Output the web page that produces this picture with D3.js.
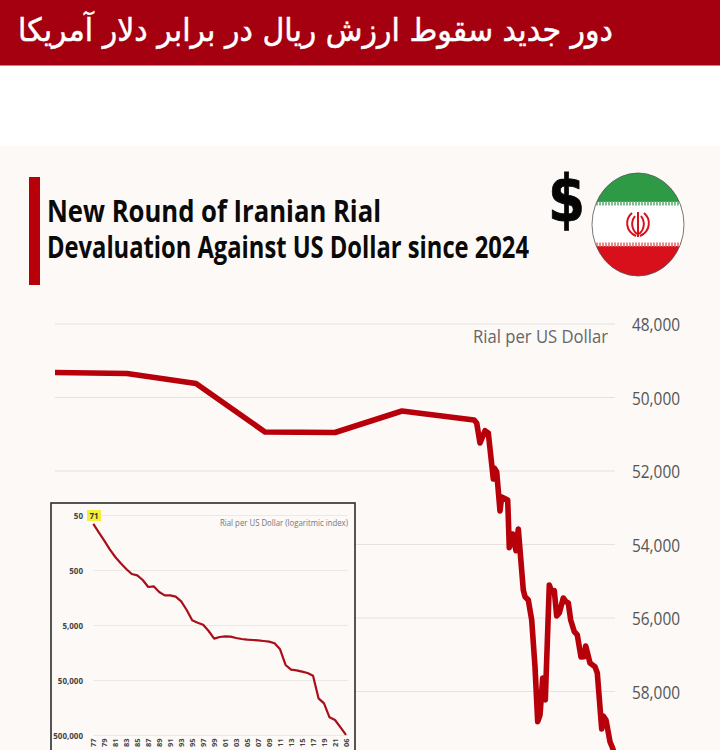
<!DOCTYPE html>
<html><head><meta charset="utf-8">
<script src="https://cdn.jsdelivr.net/npm/d3@7/dist/d3.min.js"></script>
<style>html,body{margin:0;padding:0;background:#fff;overflow:hidden}svg{display:block}</style>
</head><body><div id="chart"></div>
<script>
const headline = "دور جدید سقوط ارزش ریال در برابر دلار آمریکا";
const titleLines = ["New Round of Iranian Rial", "Devaluation Against US Dollar since 2024"];
const mainUnit = "Rial per US Dollar";
const insetUnit = "Rial per US Dollar (logaritmic index)";

// Main chart: step position along the time axis, and rial per dollar
const mainSteps = [0,72,141,210,280,347,419,421.7,425,430,433.3,438.3,439.3,441.7,445,446.7,452.7,454.3,457.7,461,463.3,468.3,470,473.3,476.7,480,482.7,485,487.7,490.3,494.3,496.7,499.3,501.7,504.3,508.3,511,513.3,515.7,519.3,522.3,526,529,530.7,535,540,542.3,546.7,548.3,551,555,557.7,561];
const mainValues = [49320,49347,49619,50939,50952,50367,50612,50694,51238,50903,50966,52217,51918,52027,53088,52707,52789,54087,53714,54170,53578,55238,55420,55510,56054,57325,58822,58640,57632,58231,55102,55284,55257,55945,55864,55456,55556,55592,56054,56373,56462,57061,57053,56762,57225,57325,57497,59020,58666,58775,59366,59546,59863];
const mainTicks = [48000,50000,52000,54000,56000,58000];

// Inset: yearly rate on a log index
const insetPeriods = ["77","78","79","80","81","82","83","84","85","86","87","88","89","90","91","92","93","94","95","96","97","98","99","00","01","02","03","04","05","06a","07","08","09","10","11","12","13","14","15","16","17","18","19","20","21","22","06"];
const insetValues = [71,101,143,206,284,370,470,579,612,744,998,970,1230,1414,1414,1495,1818,2614,4027,4440,4830,6295,8670,8090,7870,7980,8435,8790,9050,9180,9310,9570,9840,10540,13550,26100,31760,32670,34540,36550,40820,105430,130000,233800,261200,355500,488600];
const insetTicks = [50,500,5000,50000,500000];

const W = 720, H = 750, BG = "#fcf9f6", RED = "#b8000a";
const svg = d3.select("#chart").append("svg").attr("width", W).attr("height", H).attr("viewBox", `0 0 ${W} ${H}`);
svg.append("rect").attr("width", W).attr("height", H).attr("fill", "#fff");
svg.append("rect").attr("y", 146).attr("width", W).attr("height", H - 146).attr("fill", BG);
svg.append("rect").attr("width", W).attr("height", 65.5).attr("fill", "#a50010");
svg.append("text").attr("x", 613).attr("y", 41).attr("text-anchor", "start").attr("direction", "rtl")
  .attr("fill", "#fff").attr("stroke", "#fff").attr("stroke-width", 0.5)
  .attr("font-family", "DejaVu Sans").attr("font-size", 32)
  .attr("textLength", 595).attr("lengthAdjust", "spacingAndGlyphs").text(headline);

// Title block
svg.append("rect").attr("x", 29).attr("y", 177).attr("width", 11).attr("height", 108).attr("fill", RED);
const titleWidths = [334, 482];
titleLines.forEach((t, i) => svg.append("text").attr("x", 47).attr("y", 222 + i * 36)
  .attr("font-family", "Open Sans").attr("font-weight", 700).attr("font-size", 30).attr("fill", "#0a0a0a")
  .attr("textLength", titleWidths[i]).attr("lengthAdjust", "spacingAndGlyphs").text(t));

// Dollar sign and flag
svg.append("text").attr("x", 566.5).attr("y", 221).attr("text-anchor", "middle").attr("stroke", "#050505").attr("stroke-width", 0.8)
  .attr("font-family", "DejaVu Sans").attr("font-weight", 700).attr("font-size", 64).attr("fill", "#050505")
  .attr("textLength", 37).attr("lengthAdjust", "spacingAndGlyphs").text("$");
const defs = svg.append("defs");
defs.append("clipPath").attr("id", "flagClip").append("ellipse").attr("cx", 638).attr("cy", 224.5).attr("rx", 46).attr("ry", 51.5);
const flag = svg.append("g").attr("clip-path", "url(#flagClip)");
flag.append("rect").attr("x", 590).attr("y", 172).attr("width", 96).attr("height", 30).attr("fill", "#2f9a45");
flag.append("rect").attr("x", 590).attr("y", 202).attr("width", 96).attr("height", 44).attr("fill", "#fff");
flag.append("rect").attr("x", 590).attr("y", 246).attr("width", 96).attr("height", 32).attr("fill", "#d8101c");
flag.append("line").attr("x1", 590).attr("x2", 686).attr("y1", 203.5).attr("y2", 203.5).attr("stroke", "#7fbd8e").attr("stroke-width", 4).attr("stroke-dasharray", "2 1");
flag.append("line").attr("x1", 590).attr("x2", 686).attr("y1", 244.5).attr("y2", 244.5).attr("stroke", "#e58a8c").attr("stroke-width", 4).attr("stroke-dasharray", "2 1");
const emblem = svg.append("g").attr("fill", "none").attr("stroke", "#d8101c").attr("stroke-width", 2);
emblem.append("path").attr("d", "M632 213 C625 219 625 231 636 236");
emblem.append("path").attr("d", "M644 213 C651 219 651 231 640 236");
emblem.append("path").attr("d", "M635 216 C631 221 631 229 637 234");
emblem.append("path").attr("d", "M641 216 C645 221 645 229 639 234");
emblem.append("line").attr("x1", 638).attr("x2", 638).attr("y1", 212).attr("y2", 237);
svg.append("ellipse").attr("cx", 638).attr("cy", 224.5).attr("rx", 46).attr("ry", 51.5).attr("fill", "none").attr("stroke", "#555").attr("stroke-width", 0.8);

// Main chart
const x = d3.scaleLinear().domain([0, 560]).range([55, 615]);
const y = d3.scaleLinear().domain([48000, 58000]).range([324, 691.5]);
const fmt = d3.format(",");
const yAxis = svg.append("g").attr("transform", "translate(615,0.8)")
  .call(d3.axisRight(y).tickValues(mainTicks).tickFormat(fmt).tickSize(0).tickPadding(17));
yAxis.select(".domain").remove();
yAxis.selectAll("text").attr("font-family", "Open Sans").attr("font-size", 18).attr("fill", "#555")
  .attr("textLength", 48).attr("lengthAdjust", "spacingAndGlyphs");
svg.append("g").selectAll("line").data(mainTicks).join("line")
  .attr("x1", x(0)).attr("x2", x(560)).attr("y1", d => y(d)).attr("y2", d => y(d))
  .attr("stroke", "#e6e2dd").attr("stroke-width", 1.2);
svg.append("text").attr("x", 473).attr("y", 343).attr("font-family", "Open Sans").attr("font-size", 19)
  .attr("fill", "#666").attr("textLength", 135).attr("lengthAdjust", "spacingAndGlyphs").text(mainUnit);
svg.append("path").datum(mainSteps.map((s, i) => [s, mainValues[i]]))
  .attr("fill", "none").attr("stroke", RED).attr("stroke-width", 5.6).attr("stroke-linejoin", "round")
  .attr("d", d3.line().x(d => x(d[0])).y(d => y(d[1])));

// Inset
svg.append("rect").attr("x", 51).attr("y", 503).attr("width", 304).attr("height", 280)
  .attr("fill", BG).attr("stroke", "#2c2c2c").attr("stroke-width", 1.6);
const ix = d3.scalePoint().domain(insetPeriods).range([93.3, 346]);
const iy = d3.scaleLog().domain([50, 500000]).range([515.5, 735.5]);
svg.append("g").selectAll("line").data(insetTicks).join("line")
  .attr("x1", 93).attr("x2", 348).attr("y1", d => iy(d)).attr("y2", d => iy(d))
  .attr("stroke", "#ece8e3").attr("stroke-width", 1);
const iyAxis = svg.append("g").attr("transform", "translate(83,0)")
  .call(d3.axisLeft(iy).tickValues(insetTicks).tickFormat(fmt).tickSize(0).tickPadding(0));
iyAxis.select(".domain").remove();
iyAxis.selectAll("text").attr("font-family", "Open Sans").attr("font-weight", 700).attr("font-size", 8).attr("fill", "#444");
const labelled = insetPeriods.filter((d, i) => i % 2 === 0);
const ixAxis = svg.append("g").attr("transform", "translate(0,738.5)")
  .call(d3.axisBottom(ix).tickValues(labelled).tickFormat(d => d).tickSize(0).tickPadding(0));
ixAxis.select(".domain").remove();
ixAxis.selectAll("text").attr("font-family", "Open Sans").attr("font-weight", 700).attr("font-size", 7.5).attr("fill", "#444")
  .attr("text-anchor", "end").attr("dy", 0).attr("y", 0).attr("x", 0)
  .attr("transform", "translate(2.6,0) rotate(-90)");
svg.append("rect").attr("x", 87).attr("y", 510).attr("width", 14).attr("height", 11).attr("fill", "#f3ef3a");
svg.append("text").attr("x", 94).attr("y", 518.5).attr("text-anchor", "middle").attr("font-family", "Open Sans")
  .attr("font-weight", 700).attr("font-size", 8).attr("fill", "#333").text(insetValues[0]);
svg.append("text").attr("x", 348).attr("y", 525.5).attr("text-anchor", "end").attr("font-family", "Open Sans")
  .attr("font-size", 8.5).attr("fill", "#777").attr("textLength", 128).attr("lengthAdjust", "spacingAndGlyphs").text(insetUnit);
svg.append("path").datum(insetPeriods.map((p, i) => [p, insetValues[i]]))
  .attr("fill", "none").attr("stroke", "#a90f18").attr("stroke-width", 2.2).attr("stroke-linejoin", "round")
  .attr("d", d3.line().x(d => ix(d[0])).y(d => iy(d[1])));
</script></body></html>
